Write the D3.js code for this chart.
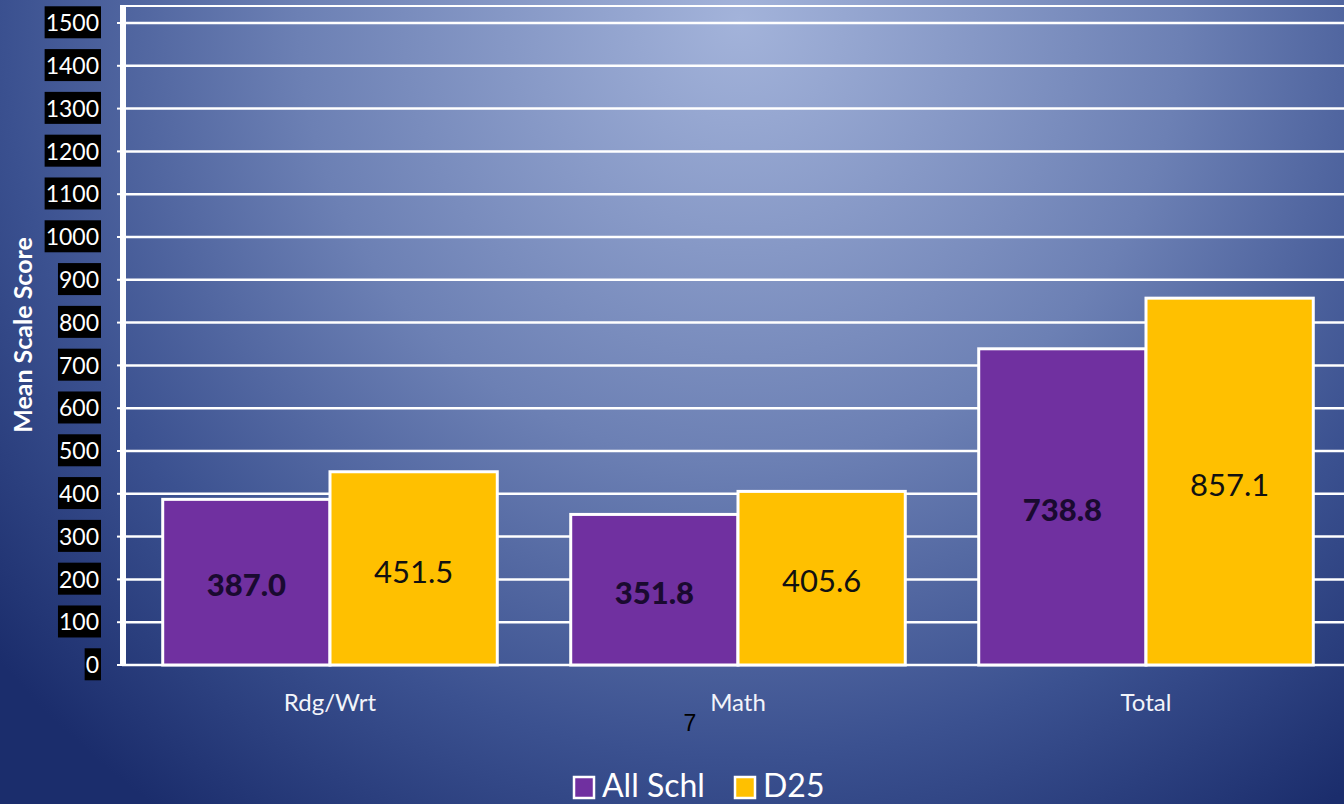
<!DOCTYPE html>
<html>
<head>
<meta charset="utf-8">
<script src="https://cdn.jsdelivr.net/npm/d3@7"></script>
<style>
  html, body { margin: 0; padding: 0; }
  body { width: 1344px; height: 804px; overflow: hidden; }
  text { font-family: Lato, "Open Sans", sans-serif; }
</style>
</head>
<body>
<div id="chart"></div>
<script>
var width = 1344,
    height = 804;

// data
var categories = ["Rdg/Wrt", "Math", "Total"];
var seriesNames = ["All Schl", "D25"];
var allSchl = [387.0, 351.8, 738.8];
var d25 = [451.5, 405.6, 857.1];
var yTicks = [0, 100, 200, 300, 400, 500, 600, 700, 800, 900, 1000, 1100, 1200, 1300, 1400, 1500];
var colors = ["#7030A0", "#FFC000"];

var svg = d3.select("#chart").append("svg")
    .attr("width", width)
    .attr("height", height);

// background
var defs = svg.append("defs");
var grad = defs.append("radialGradient")
    .attr("id", "bg")
    .attr("gradientUnits", "userSpaceOnUse")
    .attr("cx", 740).attr("cy", 20)
    .attr("r", 980);
grad.append("stop").attr("offset", "0%").attr("stop-color", "#a3b3da");
grad.append("stop").attr("offset", "45%").attr("stop-color", "#6c80b4");
grad.append("stop").attr("offset", "75%").attr("stop-color", "#3b5190");
grad.append("stop").attr("offset", "100%").attr("stop-color", "#1b2d6c");

svg.append("rect")
    .attr("width", width).attr("height", height)
    .attr("fill", "url(#bg)");

var x0 = 126, x1 = 1350, yTop = 23, yBottom = 665;

var x = d3.scaleBand()
    .domain(categories)
    .range([x0, x1])
    .paddingInner(0.18)
    .paddingOuter(0.09);

var xs = d3.scaleBand()
    .domain(seriesNames)
    .range([0, x.bandwidth()]);

var y = d3.scaleLinear()
    .domain([0, 1500])
    .range([yBottom, yTop]);

// gridlines
svg.append("g").selectAll("line")
    .data(yTicks)
    .enter().append("line")
    .attr("x1", 122).attr("x2", width)
    .attr("y1", function(d){ return y(d); })
    .attr("y2", function(d){ return y(d); })
    .attr("stroke", "white")
    .attr("stroke-width", 2.5);

// top border line
svg.append("line")
    .attr("x1", 122).attr("x2", width)
    .attr("y1", 6).attr("y2", 6)
    .attr("stroke", "white").attr("stroke-width", 2);

// y axis line
svg.append("line")
    .attr("x1", 123).attr("x2", 123)
    .attr("y1", 5).attr("y2", yBottom + 1)
    .attr("stroke", "white").attr("stroke-width", 6);

// small tick marks
svg.append("g").selectAll("line")
    .data(yTicks)
    .enter().append("line")
    .attr("x1", 117).attr("x2", 121)
    .attr("y1", function(d){ return y(d); })
    .attr("y2", function(d){ return y(d); })
    .attr("stroke", "white").attr("stroke-width", 2);

// tick labels with black boxes
var tick = svg.append("g").selectAll("g")
    .data(yTicks)
    .enter().append("g");

tick.append("text")
    .attr("x", 99)
    .attr("y", function(d){ return y(d); })
    .attr("dy", "0.36em")
    .attr("text-anchor", "end")
    .attr("fill", "white")
    .style("font-size", "23px")
    .text(function(d){ return d; })
    .each(function(){
        var b = this.getBBox();
        d3.select(this.parentNode).insert("rect", "text")
            .attr("x", b.x - 1)
            .attr("y", b.y + b.height/2 - 16)
            .attr("width", b.width + 3)
            .attr("height", 32)
            .attr("fill", "black");
    });

// y axis title
svg.append("text")
    .attr("transform", "translate(32,335)rotate(-90)")
    .attr("text-anchor", "middle")
    .attr("fill", "white")
    .style("font-size", "25px")
    .style("font-weight", "bold")
    .text("Mean Scale Score");

// bars
var rows = categories.map(function(c, i){
    return [{cat: c, s: 0, v: allSchl[i]}, {cat: c, s: 1, v: d25[i]}];
});

var cat = svg.append("g").selectAll("g")
    .data(rows)
    .enter().append("g")
    .attr("transform", function(d){ return "translate(" + x(d[0].cat) + ",0)"; });

cat.selectAll("rect")
    .data(function(d){ return d; })
    .enter().append("rect")
    .attr("x", function(d){ return xs(seriesNames[d.s]); })
    .attr("y", function(d){ return y(d.v); })
    .attr("width", xs.bandwidth())
    .attr("height", function(d){ return y(0) - y(d.v); })
    .attr("fill", function(d){ return colors[d.s]; })
    .attr("stroke", "white")
    .attr("stroke-width", 3);

cat.selectAll(".val")
    .data(function(d){ return d; })
    .enter().append("text")
    .attr("class", "val")
    .attr("x", function(d){ return xs(seriesNames[d.s]) + xs.bandwidth()/2; })
    .attr("y", function(d){ return (y(d.v) + y(0))/2 + 3; })
    .attr("dy", "0.36em")
    .attr("text-anchor", "middle")
    .attr("fill", function(d){ return d.s == 0 ? "#1a0a30" : "#111"; })
    .style("font-size", "31px")
    .style("font-weight", function(d){ return d.s == 0 ? "900" : "normal"; })
    .text(function(d){ return d.v.toFixed(1); });

// category labels
svg.append("g").selectAll("text")
    .data(categories)
    .enter().append("text")
    .attr("x", function(d){ return x(d) + x.bandwidth()/2; })
    .attr("y", 711)
    .attr("text-anchor", "middle")
    .attr("fill", "#f2f4fa")
    .style("font-size", "24px")
    .text(function(d){ return d; });

// page number
svg.append("text")
    .attr("x", 690).attr("y", 731)
    .attr("text-anchor", "middle")
    .attr("fill", "black")
    .style("font-family", "Liberation Sans, Arial, sans-serif")
    .style("font-size", "23px")
    .text("7");

// legend
var legX = [574, 735];
var leg = svg.append("g").selectAll("g")
    .data(seriesNames)
    .enter().append("g")
    .attr("transform", function(d, i){ return "translate(" + legX[i] + ",777)"; });

leg.append("rect")
    .attr("width", 20).attr("height", 21)
    .attr("fill", function(d, i){ return colors[i]; })
    .attr("stroke", "white").attr("stroke-width", 2.5);

leg.append("text")
    .attr("x", 28).attr("y", 20)
    .attr("fill", "white")
    .style("font-size", "32px")
    .text(function(d){ return d; });
</script>
</body>
</html>
